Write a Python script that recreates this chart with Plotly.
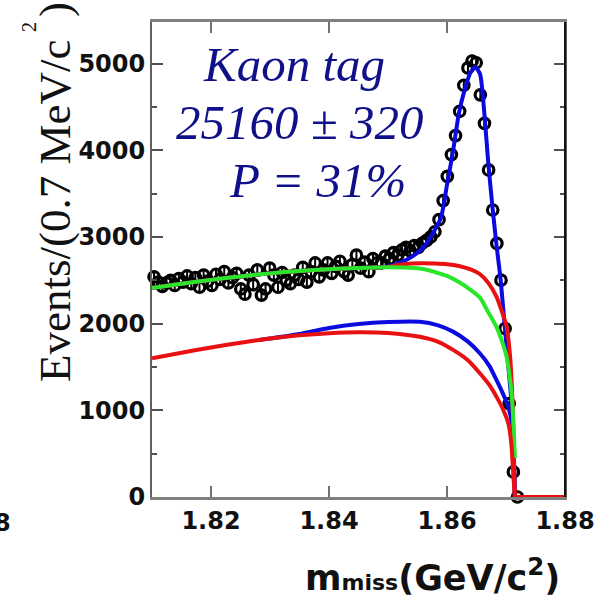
import numpy as np
import plotly.graph_objects as go

# Histogram binning: 100 bins of 0.7 MeV over [1.81, 1.88] GeV
bin_width = 0.0007
n_filled = 89
mmiss = [round(1.81 + bin_width * (i + 0.5), 5) for i in range(n_filled)]

events = [
    2540, 2480, 2430, 2470, 2500, 2440, 2520, 2480, 2550, 2460,
    2530, 2420, 2560, 2490, 2440, 2570, 2510, 2600, 2470, 2530,
    2580, 2400, 2340, 2560, 2450, 2620, 2330, 2400, 2640, 2560,
    2420, 2590, 2500, 2460, 2560, 2510, 2650, 2480, 2600, 2700,
    2540, 2620, 2700, 2580, 2660, 2720, 2600, 2560, 2680, 2790,
    2640, 2710, 2600, 2750, 2700, 2700, 2780, 2750, 2820, 2790,
    2850, 2880, 2840, 2900, 2880, 2930, 2960, 3000, 3060, 3200,
    3420, 3700, 3950, 4170, 4450, 4750, 4950, 5030, 5010, 4640,
    4311, 3773, 3311, 2926, 2502, 1944, 1078, 289, 0,
]
event_errors = np.sqrt(np.array(events, dtype=float))

# Fit components (GeV/c^2, events per bin)
total_x = [1.810, 1.815, 1.820, 1.825, 1.830, 1.835, 1.840, 1.845, 1.850,
           1.852, 1.854, 1.856, 1.8575, 1.859, 1.860, 1.861, 1.862, 1.863,
           1.864, 1.8648, 1.8656, 1.8663, 1.8670, 1.8677, 1.8684, 1.8691,
           1.8698, 1.8704, 1.8710, 1.8713, 1.8715]
total_y = [2410, 2460, 2505, 2545, 2580, 2608, 2628, 2642, 2660,
           2700, 2770, 2880, 3030, 3230, 3600, 3980, 4420, 4700,
           4900, 4960, 4880, 4450, 3850, 3350, 2900, 2500,
           1960, 1500, 1040, 550, 0]

bkg_all_x = [1.810, 1.815, 1.820, 1.825, 1.830, 1.835, 1.840, 1.845, 1.850,
             1.852, 1.854, 1.856, 1.858, 1.860, 1.862, 1.864, 1.8656, 1.867,
             1.8684, 1.8694, 1.8701, 1.8707, 1.8711, 1.8713, 1.8715, 1.880]
bkg_all_y = [2410, 2460, 2505, 2545, 2580, 2608, 2628, 2642, 2655,
             2680, 2695, 2697, 2693, 2685, 2665, 2625, 2570, 2470,
             2309, 2120, 1963, 1617, 1100, 600, 0, 0]

comb_x = [1.810, 1.815, 1.820, 1.825, 1.830, 1.835, 1.840, 1.845, 1.850,
          1.8535, 1.856, 1.858, 1.860, 1.862, 1.864, 1.8656, 1.867, 1.8684,
          1.8694, 1.8701, 1.8706, 1.8710, 1.8713, 1.8715]
comb_y = [2410, 2460, 2505, 2545, 2580, 2608, 2628, 2642, 2650,
          2645, 2630, 2595, 2550, 2480, 2390, 2300, 2130, 1960,
          1780, 1617, 1400, 1155, 800, 450]

peak_bkg_x = [1.828, 1.830, 1.835, 1.840, 1.845, 1.850, 1.8554, 1.8585, 1.8611,
              1.8635, 1.8656, 1.8672, 1.8684, 1.8695, 1.8704, 1.8710, 1.8713,
              1.8715]
peak_bkg_y = [1810, 1828, 1880, 1950, 1995, 2018, 2021, 1980, 1905,
              1795, 1656, 1510, 1348, 1190, 1039, 848, 500, 0]

other_x = [1.810, 1.815, 1.820, 1.825, 1.830, 1.835, 1.840, 1.845, 1.850,
           1.8554, 1.8585, 1.8611, 1.8635, 1.8656, 1.8672, 1.8684, 1.8695,
           1.8704, 1.8709, 1.8712, 1.8715, 1.880]
other_y = [1600, 1665, 1725, 1780, 1828, 1865, 1890, 1902, 1893,
           1848, 1790, 1694, 1580, 1425, 1290, 1155, 1010,
           848, 620, 300, 0, 0]

y_ticks = [0, 1000, 2000, 3000, 4000, 5000]
x_ticks = [1.82, 1.84, 1.86, 1.88]
x_tick_text = ["1.82", "1.84", "1.86", "1.88"]

BLUE = "#0b0be0"
RED = "#e81010"
GREEN = "#2ae62a"
NAVY = "#10108a"

fig = go.Figure()

fig.add_trace(go.Scatter(
    x=mmiss, y=events, mode="markers",
    marker=dict(symbol="circle-open", size=10.5, color="black",
                line=dict(width=3.2, color="black")),
    error_y=dict(type="data", array=event_errors, thickness=2, width=0,
                 color="black"),
    cliponaxis=False, showlegend=False,
))


def curve(x, y, color, shape="spline"):
    return go.Scatter(x=x, y=y, mode="lines",
                      line=dict(color=color, width=4, shape=shape,
                                smoothing=0.6),
                      cliponaxis=False, showlegend=False)


def curve_with_tail(x, y, color):
    # smooth body, straight zero tail beyond the kinematic endpoint
    return [curve(x[:-1], y[:-1], color), curve(x[-2:], y[-2:], color, "linear")]


fig.add_trace(curve(total_x, total_y, BLUE))
fig.add_trace(curve(peak_bkg_x, peak_bkg_y, BLUE))
for tr in curve_with_tail(bkg_all_x, bkg_all_y, RED):
    fig.add_trace(tr)
fig.add_trace(curve(comb_x, comb_y, GREEN))
for tr in curve_with_tail(other_x, other_y, RED):
    fig.add_trace(tr)

W, H = 610, 598
L, R, T, B = 152, 45, 22, 101
pw, ph = W - L - R, H - T - B


def px(x):
    return (x - L) / pw


def py(y):
    return (H - B - y) / ph


tick_font = dict(family="DejaVu Sans", size=24, color="#111111", weight="bold")

annotations = [
    dict(text="<i>Kaon tag</i>", x=px(293.5), y=py(64)),
    dict(text="<i>25160 ± 320</i>", x=px(299.5), y=py(122)),
    dict(text="<i>P = 31%</i>", x=px(317), y=py(181)),
]
for a in annotations:
    a.update(xref="paper", yref="paper", xanchor="center", yanchor="middle",
             showarrow=False,
             font=dict(family="Liberation Serif", size=49, color=NAVY))

serif_title = dict(family="Liberation Serif", size=45, color="#111111")
annotations += [
    dict(text="Events/(0.7 MeV/c", x=px(55), y=py(384), xanchor="center",
         yanchor="bottom", textangle=-90, font=serif_title),
    dict(text="2", x=px(29), y=py(27), xanchor="center", yanchor="middle",
         textangle=-90, font=dict(family="Liberation Serif", size=20,
                                  color="#111111")),
    dict(text=")", x=px(55), y=py(10), xanchor="center", yanchor="middle",
         textangle=-90, font=serif_title),
    dict(text="m<span style='font-size:22px'>miss</span>(GeV/c<sup>2</sup>)",
         x=px(562), y=py(575), xanchor="right", yanchor="middle",
         font=dict(family="DejaVu Sans", size=35, color="#111111",
                   weight="bold")),
    dict(text="8", x=px(12.5), y=py(523), xanchor="right", yanchor="middle",
         font=tick_font),
]
for a in annotations:
    a.setdefault("showarrow", False)
    a.setdefault("xref", "paper")
    a.setdefault("yref", "paper")

fig.update_layout(
    width=W, height=H,
    margin=dict(l=L, r=R, t=T, b=B, pad=0),
    paper_bgcolor="white", plot_bgcolor="white",
    annotations=annotations,
    shapes=[dict(type="line", xref="paper", yref="paper", x0=1, x1=1,
                 y0=0, y1=1, line=dict(color="#111111", width=2))],
)

fig.update_xaxes(
    range=[1.81, 1.88], tickvals=x_ticks, ticktext=x_tick_text,
    ticks="inside", ticklen=11, tickwidth=2, tickcolor="#707070",
    showline=True, linecolor="#808080", linewidth=2.5, mirror="ticks",
    showgrid=False, zeroline=False, tickfont=tick_font,
)
fig.update_yaxes(
    range=[0, 5480], tickvals=y_ticks,
    ticks="inside", ticklen=11, tickwidth=2, tickcolor="#505050",
    minor=dict(dtick=500, ticks="inside", ticklen=5, tickwidth=2,
               tickcolor="#505050"),
    showline=True, linecolor="#606060", linewidth=2, mirror="ticks",
    showgrid=False, zeroline=False, tickfont=tick_font,
)

fig.write_html("out.html")
